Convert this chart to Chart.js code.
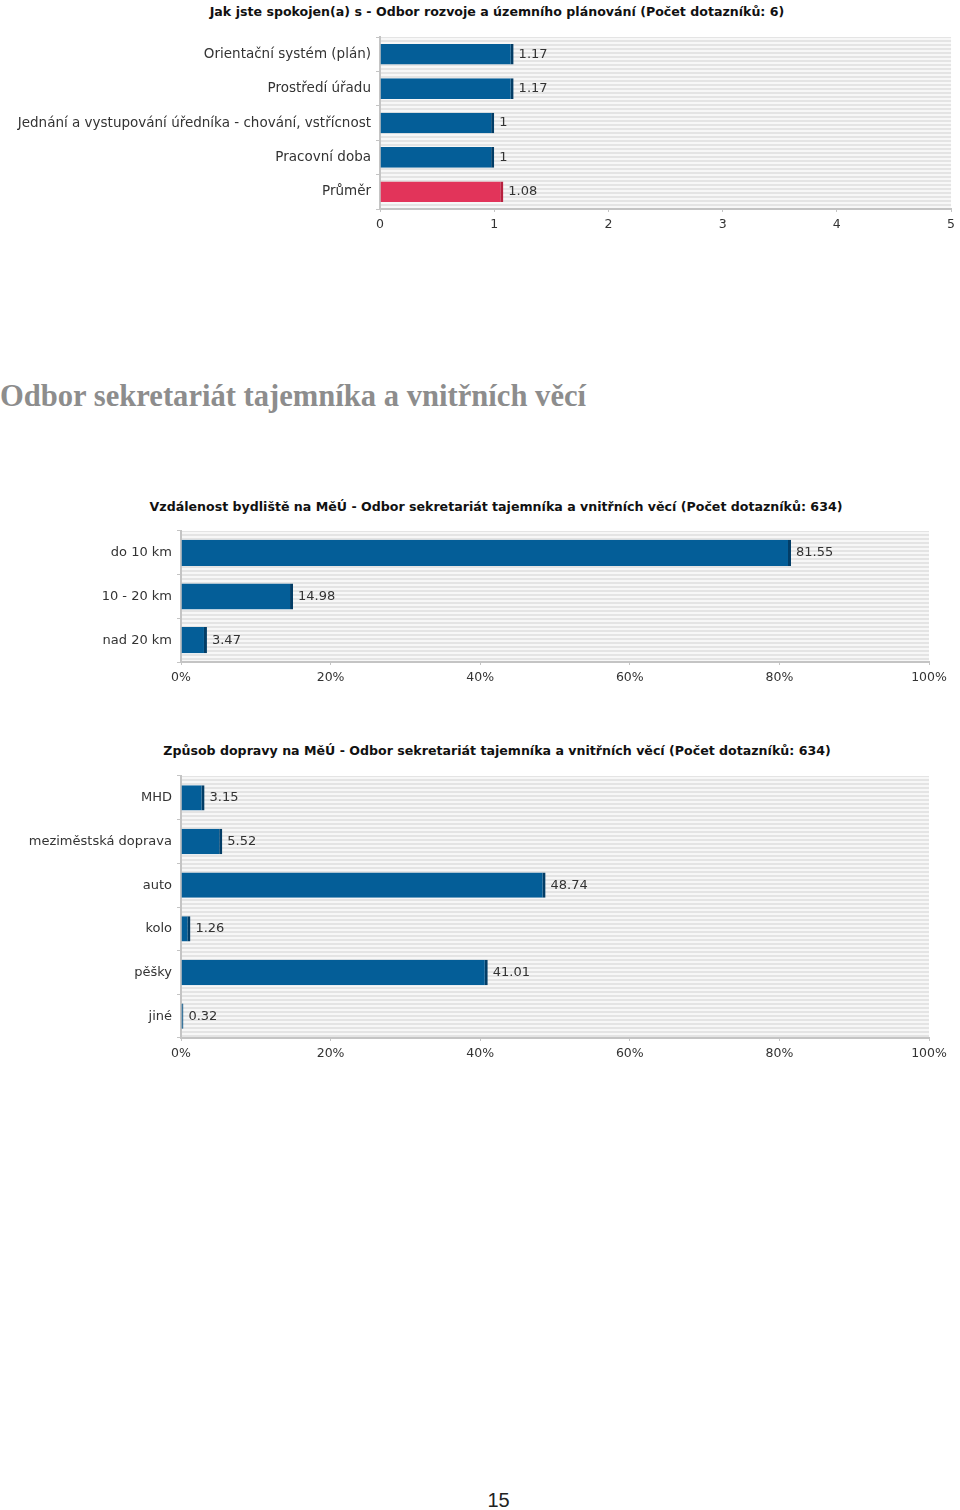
<!DOCTYPE html>
<html>
<head>
<meta charset="utf-8">
<script src="https://cdn.jsdelivr.net/npm/chart.js@4/dist/chart.umd.min.js"></script>
<style>
  html, body { margin: 0; padding: 0; background: #fff; }
  body { width: 960px; height: 1510px; position: relative; overflow: hidden; }
  .box { position: absolute; left: 0; width: 960px; }
  .ctitle {
    position: absolute; width: 0; height: 16px; line-height: 16px;
    display: flex; justify-content: center; white-space: nowrap;
    font-family: "DejaVu Sans", sans-serif; font-weight: bold; font-size: 12.6px; color: #111;
  }
  #heading {
    position: absolute; left: 0; top: 379px; margin: 0;
    font-family: "Liberation Serif", serif; font-weight: bold; font-size: 30.6px;
    color: #8d8d8d; white-space: nowrap;
  }
  #pageno {
    position: absolute; left: 0; width: 997px; top: 1489px; text-align: center;
    font-family: "Liberation Sans", sans-serif; font-size: 20px; color: #222;
  }
</style>
</head>
<body>
<div class="ctitle" id="t1" style="left:497px;top:4px"></div>
<div class="box" style="top:0;height:240px"><canvas id="c1"></canvas></div>
<h1 id="heading">Odbor sekretariát tajemníka a vnitřních věcí</h1>
<div class="ctitle" id="t2" style="left:496px;top:499px"></div>
<div class="box" style="top:490px;height:200px"><canvas id="c2"></canvas></div>
<div class="ctitle" id="t3" style="left:497px;top:743px"></div>
<div class="box" style="top:735px;height:340px"><canvas id="c3"></canvas></div>
<div id="pageno">15</div>
<script>
// --- data ---------------------------------------------------------------
const satisfactionTitle = "Jak jste spokojen(a) s - Odbor rozvoje a územního plánování (Počet dotazníků: 6)";
const satisfactionLabels = [
  "Orientační systém (plán)",
  "Prostředí úřadu",
  "Jednání a vystupování úředníka - chování, vstřícnost",
  "Pracovní doba",
  "Průměr",
];
const satisfactionValues = [1.17, 1.17, 1, 1, 1.08];
const satisfactionTicks = [0, 1, 2, 3, 4, 5];

const distanceTitle = "Vzdálenost bydliště na MěÚ - Odbor sekretariát tajemníka a vnitřních věcí (Počet dotazníků: 634)";
const distanceLabels = ["do 10 km", "10 - 20 km", "nad 20 km"];
const distanceValues = [81.55, 14.98, 3.47];

const transportTitle = "Způsob dopravy na MěÚ - Odbor sekretariát tajemníka a vnitřních věcí (Počet dotazníků: 634)";
const transportLabels = ["MHD", "meziměstská doprava", "auto", "kolo", "pěšky", "jiné"];
const transportValues = [3.15, 5.52, 48.74, 1.26, 41.01, 0.32];

const percentTicks = [0, 20, 40, 60, 80, 100];

// --- styling ------------------------------------------------------------
const COLORS = {
  bar: "#045e98",
  barEdge: "#033d66",
  avg: "#e2345a",
  avgEdge: "#b8213f",
  text: "#333",
  axis: "#c4c4c4",
  stripeDark: "#e4e4e4",
  stripeLight: "#f7f7f7",
};
const FONT = "DejaVu Sans";

// striped plot background like the original report
const stripes = {
  id: "stripes",
  beforeDraw(chart) {
    const { ctx, chartArea: a } = chart;
    const tile = document.createElement("canvas");
    tile.width = 1; tile.height = 4;
    const t = tile.getContext("2d");
    t.fillStyle = COLORS.stripeLight; t.fillRect(0, 0, 1, 4);
    t.fillStyle = COLORS.stripeDark; t.fillRect(0, 0, 1, 2);
    ctx.save();
    ctx.fillStyle = ctx.createPattern(tile, "repeat");
    ctx.fillRect(a.left, a.top, a.right - a.left, a.bottom - a.top);
    ctx.restore();
  },
};

// value printed right of each bar
const valueLabels = {
  id: "valueLabels",
  afterDatasetsDraw(chart) {
    const { ctx } = chart;
    const data = chart.data.datasets[0].data;
    ctx.save();
    ctx.font = `13px "${FONT}"`;
    ctx.fillStyle = COLORS.text;
    ctx.textBaseline = "middle";
    chart.getDatasetMeta(0).data.forEach((bar, i) => {
      ctx.fillText(String(data[i]), bar.x + 5, bar.y);
    });
    ctx.restore();
  },
};

// titles sit as page text, centred over the whole figure rather than the canvas
function renderBars(canvasId, titleId, cfg) {
  const { title, labels, values, ticks, max, suffix, colors, edges, area } = cfg;
  document.getElementById(titleId).textContent = title;
  return new Chart(document.getElementById(canvasId), {
    type: "bar",
    data: {
      labels,
      datasets: [{
        data: values,
        backgroundColor: colors,
        borderColor: edges,
        borderWidth: { right: 3, left: 0, top: 0, bottom: 0 },
        borderSkipped: "start",
        categoryPercentage: 1,
        barPercentage: cfg.barPct,
      }],
    },
    options: {
      indexAxis: "y",
      responsive: true,
      maintainAspectRatio: false,
      animation: false,
      layout: { padding: { left: 0, right: area.right, top: area.top, bottom: 0 } },
      plugins: {
        legend: { display: false },
        tooltip: { enabled: false },
        title: { display: false },
      },
      scales: {
        x: {
          min: 0,
          max,
          afterBuildTicks: (s) => { s.ticks = ticks.map((v) => ({ value: v })); },
          afterFit: (s) => { s.height = area.xHeight; },
          grid: { drawOnChartArea: false, tickLength: 3, color: COLORS.axis },
          border: { color: COLORS.axis, width: 2 },
          ticks: {
            color: COLORS.text,
            padding: 5,
            font: { family: FONT, size: 12.5 },
            callback: (v) => v + suffix,
          },
        },
        y: {
          afterFit: (s) => { s.width = area.left; },
          grid: { drawOnChartArea: false, tickLength: 4, color: COLORS.axis },
          border: { color: COLORS.axis, width: 2 },
          ticks: {
            color: COLORS.text,
            padding: 5,
            font: { family: FONT, size: cfg.labelSize },
          },
        },
      },
    },
    plugins: [stripes, valueLabels],
  });
}

renderBars("c1", "t1", {
  title: satisfactionTitle,
  labels: satisfactionLabels,
  values: satisfactionValues,
  ticks: satisfactionTicks,
  max: 5,
  suffix: "",
  colors: satisfactionLabels.map((_, i) => i === satisfactionLabels.length - 1 ? COLORS.avg : COLORS.bar),
  edges: satisfactionLabels.map((_, i) => i === satisfactionLabels.length - 1 ? COLORS.avgEdge : COLORS.barEdge),
  barPct: 0.6,
  labelSize: 13.5,
  area: { left: 380, right: 7, top: 37, xHeight: 31 },
});

renderBars("c2", "t2", {
  title: distanceTitle,
  labels: distanceLabels,
  values: distanceValues,
  ticks: percentTicks,
  max: 100,
  suffix: "%",
  colors: COLORS.bar,
  edges: COLORS.barEdge,
  barPct: 0.6,
  labelSize: 13,
  area: { left: 181, right: 31, top: 41, xHeight: 28 },
});

renderBars("c3", "t3", {
  title: transportTitle,
  labels: transportLabels,
  values: transportValues,
  ticks: percentTicks,
  max: 100,
  suffix: "%",
  colors: COLORS.bar,
  edges: COLORS.barEdge,
  barPct: 0.58,
  labelSize: 13,
  area: { left: 181, right: 31, top: 41, xHeight: 37 },
});
</script>
</body>
</html>
